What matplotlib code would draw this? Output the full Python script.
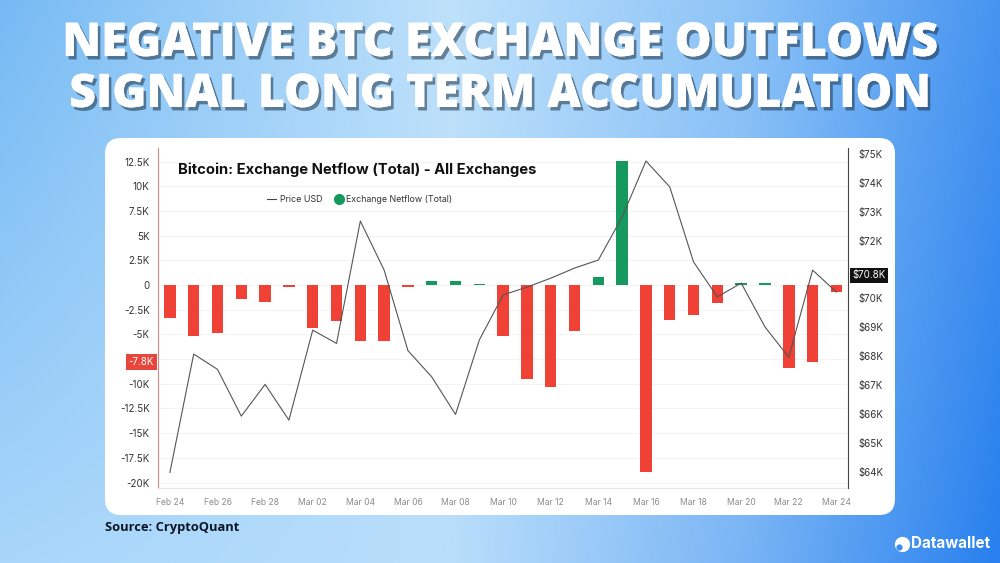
import numpy as np
import matplotlib.pyplot as plt
import matplotlib.patheffects as pe
from matplotlib.patches import FancyBboxPatch
from matplotlib.lines import Line2D
from matplotlib.ticker import FuncFormatter

plt.rcParams['font.family'] = ['Inter', 'DejaVu Sans']

# daily data, Feb 24 -> Mar 24 (29 days)
days = list(range(29))
tick_labels = ['Feb 24', 'Feb 26', 'Feb 28', 'Mar 02', 'Mar 04', 'Mar 06', 'Mar 08',
               'Mar 10', 'Mar 12', 'Mar 14', 'Mar 16', 'Mar 18', 'Mar 20', 'Mar 22', 'Mar 24']
netflow = [-3300, -5200, -4900, -1450, -1700, -250, -4400, -3600, -5700, -5650,
           -200, 400, 400, 100, -5200, -9500, -10300, -4650, 850, 12550,
           -18900, -3550, -3070, -1850, 250, 250, -8450, -7750, -700]
price = [63970, 68070, 67540, 65920, 67020, 65780, 68900, 68440, 72680, 70980,
         68190, 67280, 65980, 68560, 70120, 70390, 70700, 71050, 71330, 72820,
         74760, 73860, 71260, 70050, 70530, 69010, 67960, 70980, 70220]
last_flow_label = -7800
last_price_label = 70800

RED = '#ef4136'
GREEN = '#16995e'

W, H = 1000, 563
fig = plt.figure(figsize=(10, 5.63), dpi=100)


def px(x, y):
    return x / W, 1 - y / H


def fit(t, width_px):
    r = fig.canvas.get_renderer()
    w = t.get_window_extent(r).width
    t.set_fontsize(t.get_fontsize() * width_px / w)


# background gradient
ax_bg = fig.add_axes([0, 0, 1, 1])
ax_bg.set_xlim(0, W)
ax_bg.set_ylim(H, 0)
ax_bg.axis('off')
xs = [0, 0.45, 0.75, 1.0]
top = np.array([(118, 186, 244), (190, 225, 251), (140, 195, 247), (70, 148, 240)]) / 255
bot = np.array([(168, 214, 250), (185, 222, 251), (120, 180, 245), (40, 128, 238)]) / 255
gx = np.linspace(0, 1, 300)
gy = np.linspace(0, 1, 170)[:, None, None]
row_t = np.stack([np.interp(gx, xs, top[:, c]) for c in range(3)], axis=-1)
row_b = np.stack([np.interp(gx, xs, bot[:, c]) for c in range(3)], axis=-1)
grad = row_t[None] * (1 - gy) + row_b[None] * gy
ax_bg.imshow(grad, extent=[0, W, H, 0], aspect='auto', interpolation='bilinear')

card = FancyBboxPatch((105, 138), 790, 377, boxstyle='round,pad=0,rounding_size=16',
                      fc='white', ec='none')
ax_bg.add_patch(card)

# headline
shadow = [pe.withSimplePatchShadow(offset=(2, -2.5), shadow_rgbFace='#1d3347', alpha=0.55),
          pe.Normal()]
for line, y, w in [('NEGATIVE BTC EXCHANGE OUTFLOWS', 44, 876),
                   ('SIGNAL LONG TERM ACCUMULATION', 95, 862)]:
    t = fig.text(*px(500, y), line, ha='center', va='center', color='white',
                 fontsize=34, fontweight='heavy', family=['Open Sans', 'DejaVu Sans'],
                 path_effects=shadow)
    fit(t, w)

# main chart
ax = fig.add_axes([0.158, 1 - 488 / H, 0.6903, 340 / H])
ax.patch.set_visible(False)
colors = [GREEN if v > 0 else RED for v in netflow]
ax.bar(days, netflow, width=0.48, color=colors, zorder=2)
ax.set_xlim(-0.5, 28.5)
ax.set_ylim(-20550, 13870)
yt = np.arange(-20000, 12501, 2500)
ax.set_yticks(yt)
for v in yt:
    ax.axhline(v, color='#f1f1f1', lw=0.6, zorder=0)


def kfmt(v, pos):
    if v == 0:
        return '0'
    if v == -7500:
        return ''
    return f'{v / 1000:g}K'


ax.yaxis.set_major_formatter(FuncFormatter(kfmt))
ax.set_xticks(days[::2])
ax.set_xticklabels(tick_labels)
ax.tick_params(axis='x', length=0, pad=7, labelsize=6.2, labelcolor='#8c8c8c')
ax.tick_params(axis='y', length=0, pad=6, labelsize=7, labelcolor='#333333')
ax.spines['top'].set_visible(False)
ax.spines['right'].set_visible(False)
ax.spines['left'].set_color('#d08a84')
ax.spines['left'].set_linewidth(0.8)
ax.spines['bottom'].set_color('#e6e6e6')
ax.spines['bottom'].set_linewidth(0.8)

ax.annotate(f'{last_flow_label / 1000:g}K', xy=(0, last_flow_label),
            xycoords=('axes fraction', 'data'), xytext=(-3, 0), textcoords='offset points',
            ha='right', va='center', fontsize=7, color='white',
            bbox=dict(boxstyle='square,pad=0.3', fc='#e8453c', ec='none'))

ax2 = ax.twinx()
ax2.patch.set_visible(False)
ax2.plot(days, price, color='#555555', lw=0.8, zorder=3)
ax2.set_ylim(63430, 75210)
ax2.set_yticks(np.arange(64000, 75001, 1000))
ax2.yaxis.set_major_formatter(FuncFormatter(
    lambda v, p: '' if v == 71000 else f'${v / 1000:g}K'))
ax2.tick_params(axis='y', length=0, pad=7, labelsize=7, labelcolor='#333333')
for s in ['top', 'left', 'bottom']:
    ax2.spines[s].set_visible(False)
ax2.spines['right'].set_color('#444444')
ax2.spines['right'].set_linewidth(0.8)
ax2.annotate(f'${last_price_label / 1000:g}K', xy=(1, last_price_label),
             xycoords=('axes fraction', 'data'), xytext=(3, 0), textcoords='offset points',
             ha='left', va='center', fontsize=7, color='white',
             bbox=dict(boxstyle='square,pad=0.25', fc='#111111', ec='none'))

# chart title and legend
t = fig.text(*px(178, 170), 'Bitcoin: Exchange Netflow (Total) - All Exchanges',
             ha='left', va='center', fontsize=11, fontweight='bold', color='#111111')
fit(t, 360)
fig.add_artist(Line2D([267 / W, 276 / W], [1 - 199 / H] * 2, color='#444444', lw=0.8,
                      transform=fig.transFigure))
t = fig.text(*px(280, 199), 'Price USD', ha='left', va='center', fontsize=6.5, color='#333333')
fit(t, 43)
fig.add_artist(Line2D([338.5 / W], [1 - 199 / H], marker='o', ms=7, color=GREEN, lw=0,
                      transform=fig.transFigure))
t = fig.text(*px(346, 199), 'Exchange Netflow (Total)', ha='left', va='center',
             fontsize=6.5, color='#333333')
fit(t, 107)

# footer
t = fig.text(*px(105, 528), 'Source: CryptoQuant', ha='left', va='center', fontsize=9,
             fontweight='bold', color='#0b1626', family=['Open Sans', 'DejaVu Sans'])
fit(t, 135)
fig.add_artist(Line2D([902 / W], [1 - 544 / H], marker='o', ms=10, color='white', lw=0,
                      transform=fig.transFigure))
fig.add_artist(Line2D([899 / W], [1 - 547 / H], marker='o', ms=3.5, color='#3a8cf0', lw=0,
                      transform=fig.transFigure))
t = fig.text(*px(911, 544), 'Datawallet', ha='left', va='center', fontsize=10,
             fontweight='bold', color='white')
fit(t, 79)

fig.savefig('out.png', dpi=100)
